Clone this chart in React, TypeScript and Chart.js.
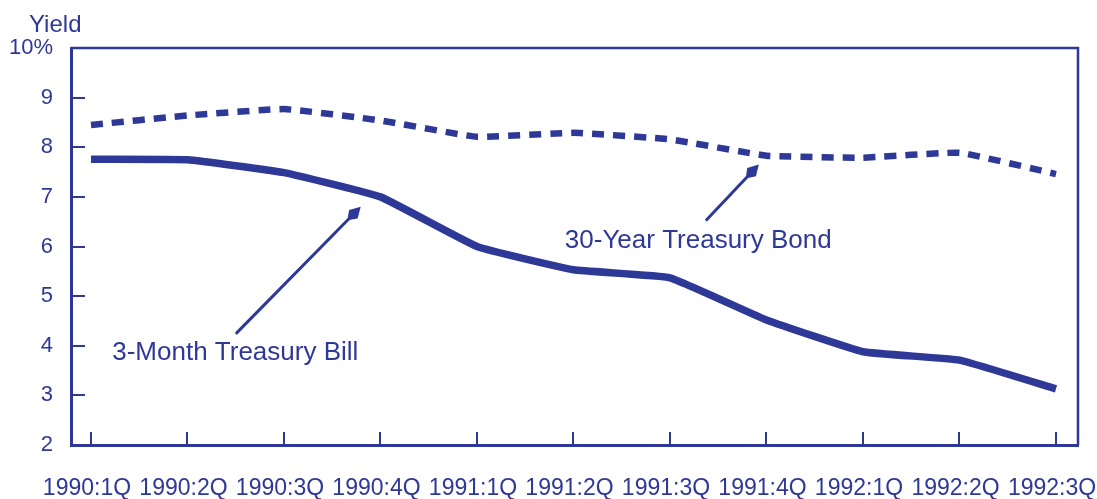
import React, { useEffect, useRef } from 'react';
import { Chart, registerables } from 'chart.js';

Chart.register(...registerables);

// ---- Data ----
const quarters = [
  '1990:1Q', '1990:2Q', '1990:3Q', '1990:4Q',
  '1991:1Q', '1991:2Q', '1991:3Q', '1991:4Q',
  '1992:1Q', '1992:2Q', '1992:3Q',
];
const billYield = [7.76, 7.75, 7.49, 7.0, 6.0, 5.53, 5.37, 4.52, 3.88, 3.71, 3.13];
const bondYield = [8.45, 8.64, 8.77, 8.54, 8.21, 8.29, 8.16, 7.83, 7.79, 7.89, 7.46];
const yTickValues = [2, 3, 4, 5, 6, 7, 8, 9, 10];
const yTickLabels = ['2', '3', '4', '5', '6', '7', '8', '9', '10%'];
const seriesNames = ['3-Month Treasury Bill', '30-Year Treasury Bond'];

// ---- Annotation placement (in data units) ----
const callouts = [
  { text: seriesNames[0], tx: 0.22, ty: 3.71, from: [1.51, 4.26], to: [2.795, 6.8] },
  { text: seriesNames[1], tx: 4.91, ty: 5.97, from: [6.38, 6.54], to: [6.92, 7.65] },
];

const INK = '#2e3896';
const FONT = "'Liberation Sans', Arial, Helvetica, sans-serif";

const decorPlugin = {
  id: 'decor',
  afterDraw(chart: any) {
    const { ctx, chartArea } = chart;
    const xs = chart.scales.x;
    const ys = chart.scales.y;
    ctx.save();
    // top and right frame
    ctx.strokeStyle = INK;
    ctx.lineWidth = 2.5;
    ctx.beginPath();
    ctx.moveTo(chartArea.left, chartArea.top);
    ctx.lineTo(chartArea.right, chartArea.top);
    ctx.lineTo(chartArea.right, chartArea.bottom);
    ctx.stroke();

    // axis title
    ctx.fillStyle = INK;
    ctx.font = `24px ${FONT}`;
    ctx.textAlign = 'left';
    ctx.textBaseline = 'alphabetic';
    ctx.fillText('Yield', 29, 32);

    // callouts
    for (const c of callouts) {
      ctx.font = `26px ${FONT}`;
      ctx.fillStyle = INK;
      ctx.textAlign = 'left';
      ctx.textBaseline = 'alphabetic';
      ctx.fillText(c.text, xs.getPixelForValue(c.tx), ys.getPixelForValue(c.ty));

      const x1 = xs.getPixelForValue(c.from[0]);
      const y1 = ys.getPixelForValue(c.from[1]);
      const x2 = xs.getPixelForValue(c.to[0]);
      const y2 = ys.getPixelForValue(c.to[1]);
      const len = Math.hypot(x2 - x1, y2 - y1);
      const ux = (x2 - x1) / len;
      const uy = (y2 - y1) / len;
      const px = -uy;
      const py = ux;
      const headLen = 19;
      const headW = 6;
      ctx.strokeStyle = INK;
      ctx.lineWidth = 3;
      ctx.lineCap = 'round';
      ctx.beginPath();
      ctx.moveTo(x1, y1);
      ctx.lineTo(x2 - ux * (headLen - 4), y2 - uy * (headLen - 4));
      ctx.stroke();
      ctx.beginPath();
      ctx.moveTo(x2, y2);
      ctx.lineTo(x2 - ux * headLen * 0.55 + px * headW, y2 - uy * headLen * 0.55 + py * headW);
      ctx.lineTo(x2 - ux * headLen, y2 - uy * headLen);
      ctx.lineTo(x2 - ux * headLen * 0.55 - px * headW, y2 - uy * headLen * 0.55 - py * headW);
      ctx.closePath();
      ctx.fill();
    }
    ctx.restore();
  },
};

export default function App() {
  const ref = useRef<HTMLCanvasElement | null>(null);

  useEffect(() => {
    document.body.style.margin = '0';
    const canvas = ref.current;
    if (!canvas) return;
    const chart = new Chart(canvas, {
      type: 'line',
      data: {
        datasets: [
          {
            label: seriesNames[0],
            data: billYield.map((y, i) => ({ x: i, y })),
            borderColor: INK,
            borderWidth: 7.5,
            pointRadius: 0,
            tension: 0.1,
            borderJoinStyle: 'round',
            borderCapStyle: 'butt',
            fill: false,
          },
          {
            label: seriesNames[1],
            data: bondYield.map((y, i) => ({ x: i, y })),
            borderColor: INK,
            borderWidth: 6.5,
            borderDash: [12, 9],
            borderCapStyle: 'butt',
            pointRadius: 0,
            tension: 0.1,
            fill: false,
          },
        ],
      },
      options: {
        responsive: false,
        animation: false,
        events: [],
        layout: { padding: { left: 0, right: 19, top: 48, bottom: 0 } },
        plugins: {
          legend: { display: false },
          tooltip: { enabled: false },
          title: { display: false },
        },
        scales: {
          x: {
            type: 'linear',
            position: 'bottom',
            min: -0.207,
            max: 10.228,
            afterBuildTicks: (scale: any) => {
              scale.ticks = quarters.map((_, i) => ({ value: i }));
            },
            afterFit: (scale: any) => {
              scale.height = 54;
              scale.paddingLeft = 0;
              scale.paddingRight = 0;
            },
            ticks: {
              autoSkip: false,
              maxRotation: 0,
              minRotation: 0,
              padding: 43,
              labelOffset: -4,
              color: INK,
              font: { family: FONT, size: 23 },
              callback: (v: any) => quarters[Math.round(Number(v))] ?? '',
            },
            grid: {
              drawOnChartArea: false,
              drawTicks: true,
              tickLength: -13,
              color: INK,
              lineWidth: 2,
            },
            border: { display: true, color: INK, width: 3 },
          },
          y: {
            type: 'linear',
            position: 'left',
            min: 2,
            max: 10,
            afterBuildTicks: (scale: any) => {
              scale.ticks = yTickValues.map((v) => ({ value: v }));
            },
            afterFit: (scale: any) => {
              scale.width = 71;
              scale.paddingTop = 0;
              scale.paddingBottom = 0;
            },
            ticks: {
              padding: 32,
              color: INK,
              font: { family: FONT, size: 22 },
              callback: (v: any) => {
                const idx = yTickValues.indexOf(Number(v));
                return idx >= 0 ? yTickLabels[idx] : '';
              },
            },
            grid: {
              drawOnChartArea: false,
              drawTicks: true,
              tickLength: -14,
              color: INK,
              lineWidth: 2,
            },
            border: { display: true, color: INK, width: 3 },
          },
        },
      } as any,
      plugins: [decorPlugin],
    });
    return () => chart.destroy();
  }, []);

  return <canvas ref={ref} width={1097} height={499} style={{ display: 'block' }} />;
}
